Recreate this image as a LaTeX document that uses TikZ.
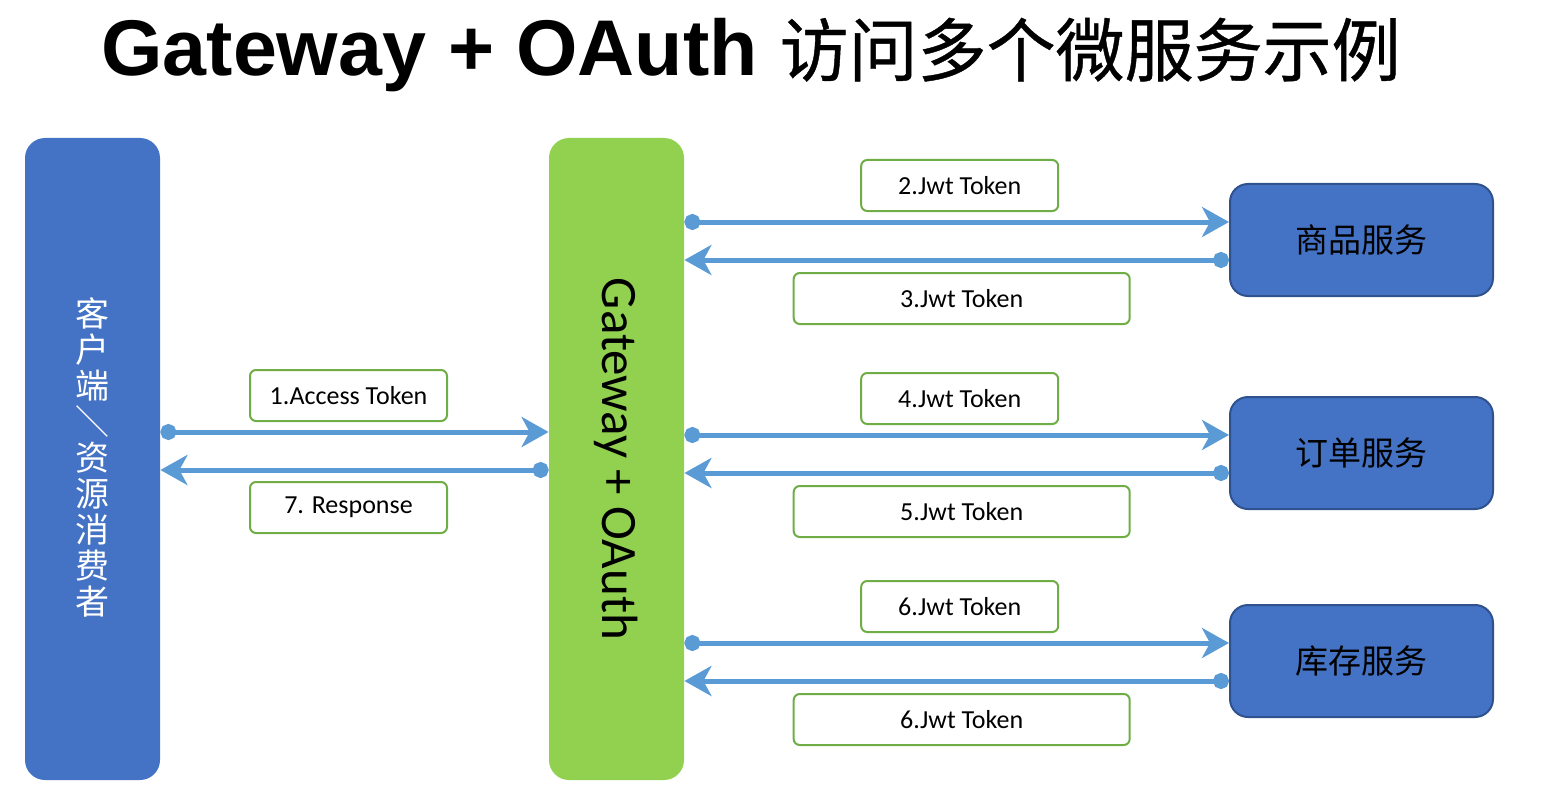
\documentclass[tikz,border=0pt]{standalone}
\usepackage{fontspec}
\setmainfont{Carlito}
\newfontfamily\cjk{Noto Sans CJK SC}
\newfontfamily\cjkheavy[FakeBold=0.6]{Noto Sans CJK SC}
\newfontfamily\titlefont{Liberation Sans}
\usetikzlibrary{arrows.meta,positioning,calc}

\definecolor{barblue}{HTML}{4472C4}
\definecolor{bargreen}{HTML}{92D050}
\definecolor{linkblue}{HTML}{5B9BD5}
\definecolor{tagborder}{HTML}{70AD47}
\definecolor{svcborder}{HTML}{2F528F}

\begin{document}
\begin{tikzpicture}[x=0.5pt,y=-0.5pt]
\tikzstyle{bar} = [rectangle,rounded corners=10pt,minimum width=67.5pt,minimum height=321pt,inner sep=0pt]
\tikzstyle{svc} = [rectangle,rounded corners=9pt,fill=barblue,draw=svcborder,line width=1pt,minimum width=131.5pt,minimum height=56pt,font=\cjk\fontsize{16.5}{18}\selectfont]
\tikzstyle{tag} = [rectangle,rounded corners=3pt,fill=white,draw=tagborder,line width=1pt,minimum height=25.5pt,font=\fontsize{13}{15}\selectfont]
\tikzstyle{link} = [draw=linkblue,line width=2.5pt,{Circle[length=8pt]}-{Stealth[length=13.5pt,width=15pt,inset=4pt]}]

\useasboundingbox (0,0) rectangle (1543,808);

% title
\node (title) at (751,55) {\titlefont\bfseries\fontsize{39.5}{42}\selectfont Gateway + OAuth {\cjkheavy\mdseries\fontsize{34.5}{36}\selectfont 访问多个微服务示例}};

% the two tall bars
\node[bar,fill=barblue] (client) at (92.5,459) {};
\node[text=white,align=center,font=\cjk\fontsize{17}{18}\selectfont] (clienttxt) at (92.5,457) {客\\户\\端\\\rotatebox[origin=c]{-90}{／}\\资\\源\\消\\费\\者};
\node[bar,fill=bargreen] (gw) at (616.5,459) {};
\node[rotate=-90,font=\fontsize{25.5}{27}\selectfont] (gwtxt) at (gw) {Gateway + OAuth};

% services
\node[svc] (goods) at (1361.5,240) {商品服务};
\node[svc,below=49.5pt of goods] (order) {订单服务};
\node[svc,below=47pt of order] (stock) {库存服务};

% client <-> gateway
\coordinate (c1) at ([yshift=13.5pt]client.east);
\coordinate (c7) at ([yshift=-5.5pt]gw.west);
\draw[link] (c1) -- (gw.west |- c1);
\draw[link] (c7) -- (client.east |- c7);
\node[tag,minimum width=98.5pt] (t1) at (348.5,395.5) {1.Access Token};
\node[tag,minimum width=98.5pt] (t7) at (348.5,507.5) {7. Response};

% gateway <-> services
\foreach \s/\a/\b in {goods/2/3,order/4/5,stock/6/6}{
  \coordinate (\s-in) at ([yshift=9pt]\s.west);
  \coordinate (\s-out) at ([yshift=-10pt]\s.west);
  \draw[link] (gw.east |- \s-in) -- (\s-in);
  \draw[link] (\s-out) -- (gw.east |- \s-out);
  \node[tag,minimum width=98.5pt,above=5pt of {$(gw.east |- \s-in)!0.5!(\s-in)$},xshift=1.5pt] (tag\a) {\a.Jwt Token};
  \node[tag,minimum width=168pt,below=6pt of {$(gw.east |- \s-out)!0.5!(\s-out)$},xshift=2.5pt] (tagb\b) {\b.Jwt Token};
}
\end{tikzpicture}
\end{document}
